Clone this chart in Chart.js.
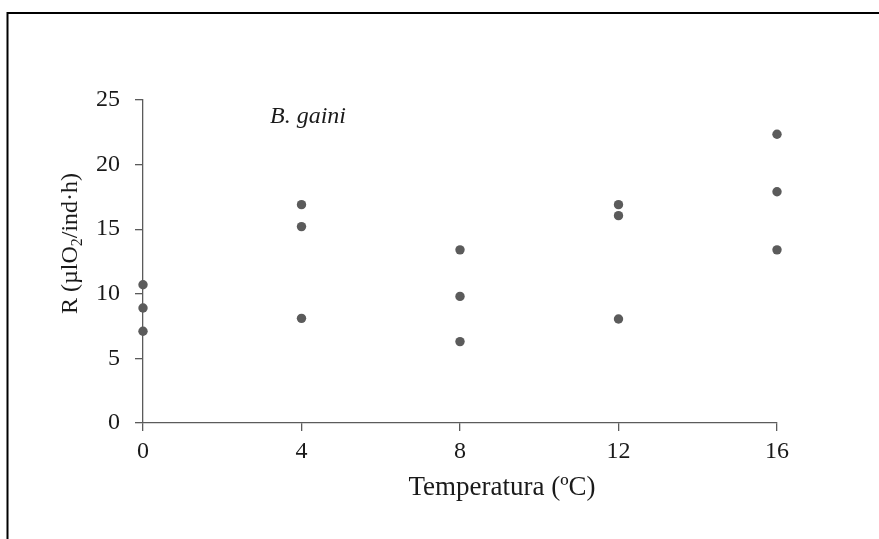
<!DOCTYPE html>
<html>
<head>
<meta charset="utf-8">
<script src="https://cdn.jsdelivr.net/npm/chart.js@4"></script>
<style>
  html, body { margin: 0; padding: 0; background: #fff; }
  #wrap { width: 879px; height: 539px; position: relative; }
</style>
</head>
<body>
<div id="wrap"><canvas id="myChart" width="879" height="539"></canvas></div>
<script>
// respiration rate per individual at each incubation temperature
let temperature = [0, 0, 0, 4, 4, 4, 8, 8, 8, 12, 12, 12, 16, 16, 16];
let respiration = [10.7, 8.9, 7.1, 16.9, 15.2, 8.1, 13.4, 9.8, 6.3, 16.9, 16.05, 8.05, 22.35, 17.9, 13.4];

let xTicks = [0, 4, 8, 12, 16];
let yTicks = [0, 5, 10, 15, 20, 25];

let speciesLabel = 'B. gaini';
let xTitle = 'Temperatura (ºC)';
let yTitleParts = ['R (µlO', '2', '/ind·h)'];

let points = [];
for (let i = 0; i < temperature.length; i++) {
  points.push({x: temperature[i], y: respiration[i]});
}

const axisColor = '#5b5b5b';
const textColor = '#1a1a1a';
const serif = '"Liberation Serif", "Times New Roman", serif';

// outer frame, axis titles and species name
const decorations = {
  id: 'decorations',
  beforeDraw(chart) {
    const ctx = chart.ctx;
    ctx.save();
    ctx.strokeStyle = '#000';
    ctx.lineWidth = 2;
    ctx.beginPath();
    ctx.moveTo(7.5, 539);
    ctx.lineTo(7.5, 13);
    ctx.lineTo(879, 13);
    ctx.stroke();
    ctx.restore();
  },
  afterDraw(chart) {
    const ctx = chart.ctx;
    ctx.save();
    ctx.fillStyle = textColor;

    // x title
    ctx.font = '27px ' + serif;
    ctx.textAlign = 'center';
    ctx.textBaseline = 'alphabetic';
    ctx.fillText(xTitle, 502, 495);

    // y title, rotated, with subscript
    ctx.save();
    ctx.translate(77, 243.5);
    ctx.rotate(-Math.PI / 2);
    const sizes = [24, 16, 24];
    const drops = [0, 5, 0];
    let total = 0;
    yTitleParts.forEach((p, i) => {
      ctx.font = sizes[i] + 'px ' + serif;
      total += ctx.measureText(p).width;
    });
    let x = -total / 2;
    ctx.textAlign = 'left';
    yTitleParts.forEach((p, i) => {
      ctx.font = sizes[i] + 'px ' + serif;
      ctx.fillText(p, x, drops[i]);
      x += ctx.measureText(p).width;
    });
    ctx.restore();

    // species name
    ctx.font = 'italic 24px ' + serif;
    ctx.textAlign = 'left';
    ctx.textBaseline = 'middle';
    ctx.fillText(speciesLabel, 270, 117);
    ctx.restore();
  }
};

new Chart(document.getElementById('myChart'), {
  type: 'scatter',
  data: {
    datasets: [{
      data: points,
      backgroundColor: axisColor,
      borderColor: axisColor,
      pointRadius: 4.7,
      pointHoverRadius: 4.7,
      borderWidth: 0,
      clip: false
    }]
  },
  options: {
    responsive: false,
    animation: false,
    layout: { padding: { left: 0, top: 100, right: 102, bottom: 0 } },
    plugins: {
      legend: { display: false },
      tooltip: { enabled: false }
    },
    scales: {
      x: {
        type: 'linear',
        min: 0,
        max: 16,
        afterBuildTicks: scale => { scale.ticks = xTicks.map(v => ({value: v})); },
        afterFit: scale => { scale.height = 116; },
        border: { display: true, color: axisColor, width: 1.3 },
        grid: { drawOnChartArea: false, drawTicks: true, tickLength: 8, color: axisColor, lineWidth: 1.3 },
        ticks: { color: textColor, font: { family: serif, size: 24 }, padding: 6, maxRotation: 0 }
      },
      y: {
        type: 'linear',
        min: 0,
        max: 25,
        afterBuildTicks: scale => { scale.ticks = yTicks.map(v => ({value: v})); },
        afterFit: scale => { scale.width = 143; },
        border: { display: true, color: axisColor, width: 1.3 },
        grid: { drawOnChartArea: false, drawTicks: true, tickLength: 8, color: axisColor, lineWidth: 1.3 },
        ticks: { color: textColor, font: { family: serif, size: 24 }, padding: 15 }
      }
    }
  },
  plugins: [decorations]
});
</script>
</body>
</html>
